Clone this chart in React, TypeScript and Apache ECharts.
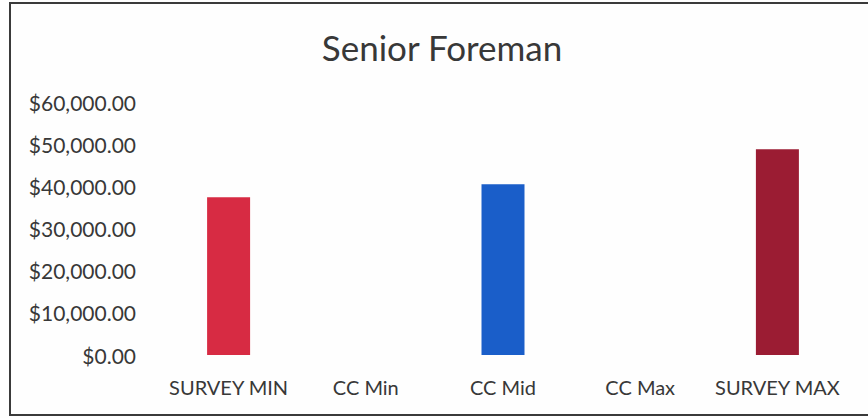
import React, { useEffect, useRef } from "react";
import * as echarts from "echarts";

const title = "Senior Foreman";
const categories = ["SURVEY MIN", "CC Min", "CC Mid", "CC Max", "SURVEY MAX"];
const values: (number | null)[] = [37400, null, 40500, null, 48800];
const barColors = ["#d72b43", "#2a2a2a", "#1a5ec9", "#2a2a2a", "#9b1c33"];
const yTicks = { min: 0, max: 60000, interval: 10000 };

const fmt = (v: number) =>
  "$" + v.toLocaleString("en-US", { minimumFractionDigits: 2, maximumFractionDigits: 2 });

export default function App() {
  const ref = useRef<HTMLDivElement>(null);
  useEffect(() => {
    document.body.style.margin = "0";
    const chart = echarts.init(ref.current!, undefined, { renderer: "svg" });
    const font = "Lato, 'Open Sans', sans-serif";
    chart.setOption({
      animation: false,
      backgroundColor: "#fefefe",
      textStyle: { fontFamily: font },
      title: {
        text: title,
        left: 437,
        textAlign: "center",
        top: 24,
        textStyle: { fontFamily: font, fontSize: 35, fontWeight: "normal", color: "#383838" },
      },
      graphic: [
        {
          type: "polyline",
          shape: { points: [[880, 3], [10, 3], [10, 415], [880, 415]] },
          style: { stroke: "#3a3a3a", lineWidth: 2, fill: "none" },
          silent: true,
        },
      ],
      grid: { left: 160, right: 22, top: 102, bottom: 63, containLabel: false },
      xAxis: {
        type: "category",
        data: categories,
        axisLine: { show: false },
        axisTick: { show: false },
        axisLabel: { color: "#383838", fontSize: 20, margin: 22, fontFamily: font, interval: 0 },
      },
      yAxis: {
        type: "value",
        min: yTicks.min,
        max: yTicks.max,
        interval: yTicks.interval,
        splitLine: { show: false },
        axisLine: { show: false },
        axisTick: { show: false },
        axisLabel: { color: "#383838", fontSize: 21, margin: 24, fontFamily: font, formatter: fmt },
      },
      series: [
        {
          type: "bar",
          barWidth: 43,
          data: values.map((v, i) => ({ value: v, itemStyle: { color: barColors[i] } })),
        },
      ],
    });
    return () => chart.dispose();
  }, []);
  return <div ref={ref} style={{ width: 868, height: 418 }} />;
}
